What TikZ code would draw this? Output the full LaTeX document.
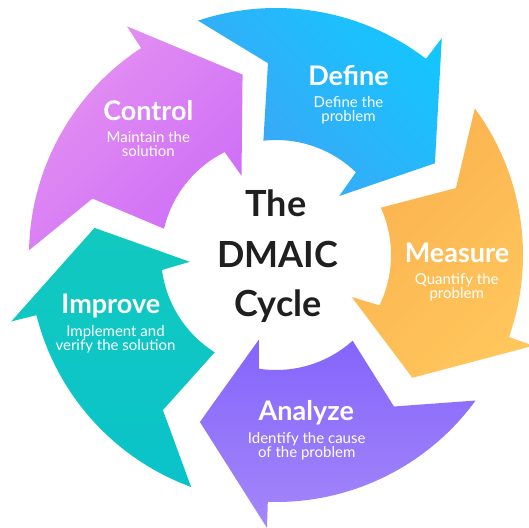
\documentclass[tikz,border=0pt]{standalone}
\usepackage{fontspec}
\setmainfont{Lato}
\definecolor{defA}{HTML}{14C6FE}
\definecolor{defB}{HTML}{40A3F5}
\definecolor{meaA}{HTML}{FBB14E}
\definecolor{meaB}{HTML}{FFC65C}
\definecolor{anaA}{HTML}{8465FB}
\definecolor{anaB}{HTML}{A487FA}
\definecolor{impA}{HTML}{12C9BF}
\definecolor{impB}{HTML}{0AC3CA}
\definecolor{conA}{HTML}{E592F1}
\definecolor{conB}{HTML}{CE6EF7}
\definecolor{titlegray}{HTML}{1F1F1F}
\newcommand\dmaicarrow[2]{%
  \shade[#2] ({96.3+#1}:115pt) arc[start angle={96.3+#1}, end angle={46+#1}, radius=115pt]
    -- ({43+#1}:86.5pt) -- ({30+#1}:183.5pt) -- ({52.6+#1}:273pt) -- ({52.6+#1}:247pt)
    arc[start angle={52.6+#1}, end angle={108.4+#1}, radius=247pt]
    -- ({92.4+#1}:192pt) -- cycle;}
\begin{document}
\begin{tikzpicture}[
  hd/.style={text=white, font=\fontsize{27}{30}\selectfont\bfseries, anchor=base, inner sep=0pt},
  sb/.style={text=white, font=\fontsize{15}{17}\selectfont, anchor=base, inner sep=0pt},
  tt/.style={text=titlegray, font=\fontsize{36}{40}\selectfont\bfseries, anchor=base, inner sep=0pt},
  defshade/.style={top color=defA, bottom color=defB, shading angle=-45},
  meashade/.style={top color=meaA, bottom color=meaB, shading angle=45},
  anashade/.style={top color=anaA, bottom color=anaB},
  impshade/.style={top color=impA, bottom color=impB},
  conshade/.style={top color=conA, bottom color=conB, shading angle=45},
]
\useasboundingbox (0,0) rectangle (529pt,-527pt);
\clip (0,0) rectangle (529pt,-527pt);
\fill[white] (0,0) rectangle (529pt,-527pt);
\begin{scope}[shift={(276pt,-255pt)}]
  \dmaicarrow{0}{defshade}
  \dmaicarrow{-72}{meashade}
  \dmaicarrow{-144.5}{anashade}
  \dmaicarrow{-218.5}{impshade}
  \dmaicarrow{-289.5}{conshade}
\end{scope}
% Define
\node[hd] (defh) at (348.5pt,-85.5pt) {Define};
\node[sb] (defs1) at (348.5pt,-107.5pt) {Define the};
\node[sb] (defs2) at (348.5pt,-121.5pt) {problem};
% Measure
\node[hd] (meah) at (457pt,-262.7pt) {Measure};
\node[sb] (meas1) at (456.7pt,-284.3pt) {Quantify the};
\node[sb] (meas2) at (456.7pt,-298pt) {problem};
% Analyze
\node[hd] (anah) at (306.3pt,-420.7pt) {Analyze};
\node[sb] (anas1) at (306.7pt,-443.3pt) {Identify the cause};
\node[sb] (anas2) at (306.7pt,-457.3pt) {of the problem};
% Improve
\node[hd] (imph) at (110.8pt,-313.3pt) {Improve};
\node[sb] (imps1) at (115.5pt,-336pt) {Implement and};
\node[sb] (imps2) at (115.5pt,-350pt) {verify the solution};
% Control
\node[hd] (conh) at (148.3pt,-120.7pt) {Control};
\node[sb] (cons1) at (148.3pt,-142.7pt) {Maintain the};
\node[sb] (cons2) at (148.3pt,-156.7pt) {solution};
% Title
\node[tt] (t1) at (276pt,-216pt) {The};
\node[tt] (t2) at (278pt,-267pt) {DMAIC};
\node[tt] (t3) at (278pt,-316.5pt) {Cycle};
\end{tikzpicture}
\end{document}
